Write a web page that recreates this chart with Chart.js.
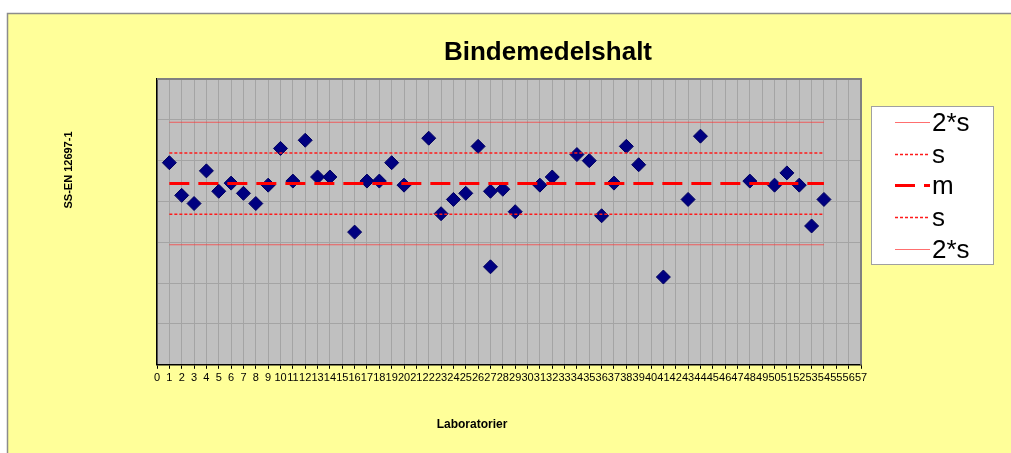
<!DOCTYPE html>
<html>
<head>
<meta charset="utf-8">
<title>Bindemedelshalt</title>
<script src="https://cdn.jsdelivr.net/npm/chart.js@4"></script>
<style>
  html, body { margin: 0; padding: 0; background: #fff; }
  canvas { display: block; }
</style>
</head>
<body>
<canvas id="chart" width="1011" height="453"></canvas>
<script>
// lab numbers and results (lab 27 reported two values)
const labs = [1, 2, 3, 4, 5, 6, 7, 8, 9, 10, 11, 12, 13, 14, 16, 17, 18, 19, 20, 22, 23, 24, 25, 26, 27, 27, 28, 29, 31, 32, 34, 35, 36, 37, 38, 39, 41, 43, 44, 48, 50, 51, 52, 53, 54];
const results = [5.59, 5.43, 5.39, 5.55, 5.45, 5.49, 5.44, 5.39, 5.48, 5.66, 5.50, 5.70, 5.52, 5.52, 5.25, 5.50, 5.50, 5.59, 5.48, 5.71, 5.34, 5.41, 5.44, 5.67, 5.45, 5.08, 5.46, 5.35, 5.48, 5.52, 5.63, 5.60, 5.33, 5.49, 5.67, 5.58, 5.03, 5.41, 5.72, 5.50, 5.48, 5.54, 5.48, 5.28, 5.41];

// reference lines: m, +-s, +-2*s
const limitLabels = ['2*s', 's', 'm', 's', '2*s'];
const limitValues = [5.788, 5.638, 5.488, 5.338, 5.188];
const limitSpan = [1, 54];

// axes
const xMin = 0, xMax = 57;
const yMin = 4.6, yMax = 6.0, yStep = 0.2;

const FONT = "'Liberation Sans', Arial, sans-serif";

const limitStyle = {
    '2*s': { color: 'rgba(255, 50, 50, 0.7)', width: 1, dash: [] },
    's': { color: '#ff1a1a', width: 1.5, dash: [3, 2] },
    'm': { color: '#ff0000', width: 3, dash: [20, 9] }
};

const datasets = limitLabels.map(function (lab, i) {
    const st = limitStyle[lab];
    return {
        label: lab,
        data: limitSpan.map(function (x) { return { x: x, y: limitValues[i] }; }),
        showLine: true,
        borderColor: st.color,
        borderWidth: st.width,
        borderDash: st.dash,
        pointRadius: 0,
        fill: false
    };
});

datasets.push({
    label: 'Resultat',
    data: labs.map(function (x, i) { return { x: x, y: results[i] }; }),
    pointStyle: 'rectRot',
    pointRadius: 7,
    backgroundColor: '#000080',
    borderColor: '#000060',
    borderWidth: 1,
    showLine: false
});

// backgrounds, frame and free-placed texts
const decor = {
    id: 'decor',
    beforeDraw: function (chart) {
        const ctx = chart.ctx, a = chart.chartArea;
        ctx.save();
        ctx.fillStyle = '#ffffff';
        ctx.fillRect(0, 0, chart.width, chart.height);
        ctx.fillStyle = '#ffff99';
        ctx.fillRect(7, 13, chart.width - 7, chart.height - 13);
        ctx.strokeStyle = '#8c8c8c';
        ctx.lineWidth = 1.5;
        ctx.beginPath();
        ctx.moveTo(7.5, chart.height);
        ctx.lineTo(7.5, 13.5);
        ctx.lineTo(chart.width, 13.5);
        ctx.stroke();
        ctx.fillStyle = '#c0c0c0';
        ctx.fillRect(a.left, a.top, a.right - a.left, a.bottom - a.top);
        ctx.restore();
    },
    beforeDatasetsDraw: function (chart) {
        const ctx = chart.ctx, a = chart.chartArea;
        ctx.save();
        ctx.strokeStyle = '#808080';
        ctx.lineWidth = 2;
        ctx.beginPath();
        ctx.moveTo(a.left, a.top);
        ctx.lineTo(a.right, a.top);
        ctx.lineTo(a.right, a.bottom);
        ctx.stroke();
        ctx.restore();
    },
    afterDraw: function (chart) {
        const ctx = chart.ctx;
        ctx.save();
        ctx.fillStyle = '#000';
        ctx.textAlign = 'center';
        ctx.textBaseline = 'middle';
        ctx.font = 'bold 26px ' + FONT;
        ctx.fillText('Bindemedelshalt', 548, 53);
        ctx.font = 'bold 12px ' + FONT;
        ctx.fillText('Laboratorier', 472, 425);
        ctx.translate(69, 170);
        ctx.rotate(-Math.PI / 2);
        ctx.font = 'bold 11px ' + FONT;
        ctx.fillText('SS-EN 12697-1', 0, 0);
        ctx.restore();

        // legend box
        ctx.save();
        ctx.fillStyle = '#ffffff';
        ctx.fillRect(871, 106, 122, 158);
        ctx.strokeStyle = '#a0a0a0';
        ctx.lineWidth = 1;
        ctx.strokeRect(871.5, 106.5, 122, 158);
        ctx.font = '26px ' + FONT;
        ctx.textAlign = 'left';
        ctx.textBaseline = 'middle';
        chart.data.datasets.slice(0, limitLabels.length).forEach(function (ds, i) {
            const y = Math.round(122 + i * 31.7) + 0.5;
            ctx.strokeStyle = ds.borderColor;
            ctx.lineWidth = ds.borderWidth;
            ctx.setLineDash(ds.borderDash);
            ctx.beginPath();
            ctx.moveTo(895, y);
            ctx.lineTo(930, y);
            ctx.stroke();
            ctx.fillStyle = '#000';
            ctx.fillText(ds.label, 932, y + 1);
        });
        ctx.restore();
    }
};

new Chart(document.getElementById('chart'), {
    type: 'scatter',
    data: { datasets: datasets },
    options: {
        responsive: false,
        animation: false,
        events: [],
        layout: { padding: { left: 157, right: 150, top: 79, bottom: 65 } },
        plugins: {
            legend: { display: false },
            title: { display: false },
            tooltip: { enabled: false }
        },
        scales: {
            x: {
                type: 'linear',
                min: xMin,
                max: xMax,
                grid: { color: '#a4a4a4', lineWidth: 1, tickLength: 4, tickColor: '#000' },
                border: { color: '#000', width: 1.5 },
                ticks: {
                    stepSize: 1,
                    autoSkip: false,
                    maxRotation: 0,
                    minRotation: 0,
                    padding: 3,
                    color: '#000',
                    font: { family: FONT, size: 11 }
                }
            },
            y: {
                min: yMin,
                max: yMax,
                grid: { color: '#a4a4a4', lineWidth: 1, drawTicks: false },
                border: { color: '#000', width: 1.5 },
                ticks: { stepSize: yStep, display: false }
            }
        }
    },
    plugins: [decor]
});
</script>
</body>
</html>
